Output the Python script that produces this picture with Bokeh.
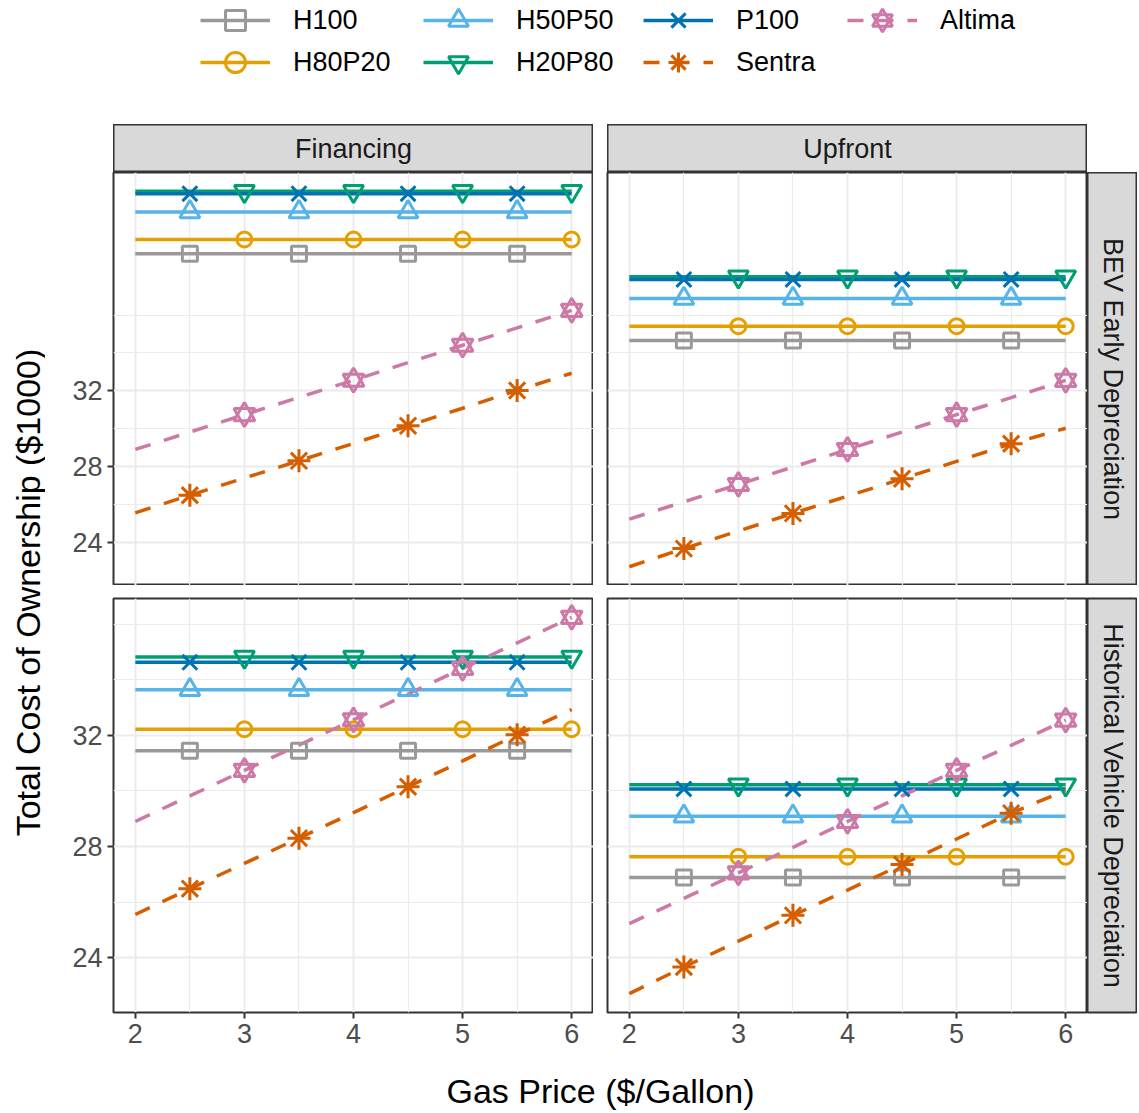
import math
from bokeh.plotting import figure
from bokeh.models import (Range1d, LinearAxis, FixedTicker, Grid, Legend, LegendItem,
                          ColumnDataSource, Label, Spacer, CDSView, IndexFilter)
from bokeh.layouts import row, column
from bokeh.embed import file_html
from bokeh.resources import INLINE

# ---------------- data ----------------
gas_price = [2, 2.5, 3, 3.5, 4, 4.5, 5, 5.5, 6]
series = ["H100", "H80P20", "H50P50", "H20P80", "P100", "Sentra", "Altima"]
payments = ["Financing", "Upfront"]
depreciations = ["BEV Early Depreciation", "Historical Vehicle Depreciation"]

# BEV total cost of ownership ($1000), constant over gas price
# order of each list: [Early/Financing, Early/Upfront, Historical/Financing, Historical/Upfront]
h100 = [39.25, 34.66, 31.45, 26.88]
h80p20 = [40.00, 35.42, 32.22, 27.63]
h50p50 = [41.46, 36.88, 33.64, 29.09]
h20p80 = [42.55, 38.03, 34.82, 30.22]
p100 = [42.42, 37.89, 34.63, 30.07]

# gasoline vehicles ($1000), by gas price
altima_financing = [28.90, 29.82, 30.74, 31.65, 32.56, 33.49, 34.41, 35.33, 36.25]
sentra_financing = [25.55, 26.48, 27.39, 28.30, 29.22, 30.15, 31.08, 32.02, 32.93]
altima_upfront = [25.22, 26.13, 27.05, 27.97, 28.90, 29.82, 30.74, 31.64, 32.55]
sentra_upfront = [22.70, 23.66, 24.59, 25.52, 26.43, 27.35, 28.27, 29.20, 30.02]

x_ticks = [2, 3, 4, 5, 6]
x_minor = [2.5, 3.5, 4.5, 5.5]
y_ticks = [24, 28, 32]
y_minor = [26, 30, 34, 36]

# ---------------- style ----------------
FONT = "Liberation Sans"
colors = {"H100": "#999999", "H80P20": "#E69F00", "H50P50": "#56B4E9",
          "H20P80": "#009E73", "P100": "#0072B2", "Sentra": "#D55E00", "Altima": "#CC79A7"}
markers = {"H100": ["square"], "H80P20": ["circle"], "H50P50": ["triangle"],
           "H20P80": ["inverted_triangle"], "P100": ["x"], "Sentra": ["asterisk"],
           "Altima": ["triangle", "inverted_triangle"]}
msize = {"H100": 15, "H80P20": 15, "H50P50": 20, "H20P80": 20, "P100": 21,
         "Sentra": 23, "Altima": 21}
dashed = {"Sentra", "Altima"}
mk_idx_a = [1, 3, 5, 7]
mk_idx_b = [2, 4, 6, 8]
mk_idx = {"H100": mk_idx_a, "H50P50": mk_idx_a, "P100": mk_idx_a, "Sentra": mk_idx_a,
          "H80P20": mk_idx_b, "H20P80": mk_idx_b, "Altima": mk_idx_b}
LW = 3.5
DASH = "16 14"


def values_for(panel_index, pay):
    n = len(gas_price)
    d = {
        "H100": [h100[panel_index]] * n,
        "H80P20": [h80p20[panel_index]] * n,
        "H50P50": [h50p50[panel_index]] * n,
        "H20P80": [h20p80[panel_index]] * n,
        "P100": [p100[panel_index]] * n,
    }
    if pay == "Financing":
        d["Sentra"] = sentra_financing
        d["Altima"] = altima_financing
    else:
        d["Sentra"] = sentra_upfront
        d["Altima"] = altima_upfront
    return d


def yrange(vals_lists):
    lo = min(min(v) for v in vals_lists)
    hi = max(max(v) for v in vals_lists)
    pad = (hi - lo) * 0.05
    return Range1d(lo - pad, hi + pad)


xr = Range1d(2 - 0.2, 6 + 0.2)
data_rows = []
for r in range(2):
    row_data = []
    for c, pay in enumerate(payments):
        row_data.append(values_for(r * 2 + c, pay))
    data_rows.append(row_data)
yranges = [yrange([v for d in data_rows[r] for v in d.values()]) for r in range(2)]


def make_panel(d, yr, fh, show_y, show_x, mbl, mbt, mbb):
    p = figure(frame_width=480, frame_height=fh, x_range=xr, y_range=yr,
               x_axis_type=None, y_axis_type=None, output_backend="svg",
               toolbar_location=None, min_border=0, min_border_left=mbl,
               min_border_top=mbt, min_border_bottom=mbb, min_border_right=0)
    p.outline_line_color = "#333333"
    p.outline_line_width = 2
    p.border_fill_color = "white"
    xt = FixedTicker(ticks=x_ticks, minor_ticks=x_minor)
    yt = FixedTicker(ticks=y_ticks, minor_ticks=y_minor)
    for dim, tk in ((0, xt), (1, yt)):
        p.add_layout(Grid(dimension=dim, ticker=tk, grid_line_color="#EBEBEB",
                          grid_line_width=2, minor_grid_line_color="#EBEBEB",
                          minor_grid_line_width=1.2))
    axkw = dict(axis_line_color=None, major_tick_line_color="#333333",
                major_tick_line_width=2, major_tick_out=6, major_tick_in=0,
                minor_tick_line_color=None, major_label_text_font_size="27px",
                major_label_text_color="#4D4D4D", major_label_text_font=FONT,
                major_label_standoff=5)
    if show_y:
        p.add_layout(LinearAxis(ticker=yt, **axkw), "left")
    if show_x:
        p.add_layout(LinearAxis(ticker=xt, **axkw), "below")
    srcs = {}
    for name in series:
        src = ColumnDataSource(dict(x=gas_price, y=d[name]))
        srcs[name] = src
        p.line("x", "y", source=src, line_color=colors[name], line_width=LW,
               line_dash=DASH if name in dashed else "solid")
    for name in series:
        view = CDSView(filter=IndexFilter(mk_idx[name]))
        for m in markers[name]:
            p.scatter("x", "y", source=srcs[name], view=view, marker=m,
                      size=msize[name], line_color=colors[name], fill_color=None,
                      line_width=3)
    return p


def make_strip(w, h, text, vertical, mbt=0, mbb=0):
    s = figure(frame_width=w, frame_height=h, x_range=Range1d(0, 1), y_range=Range1d(0, 1),
               x_axis_type=None, y_axis_type=None, min_border=0, min_border_top=mbt,
               min_border_bottom=mbb, toolbar_location=None, output_backend="svg")
    s.background_fill_color = "#D9D9D9"
    s.border_fill_color = "white"
    s.outline_line_color = "#333333"
    s.outline_line_width = 2
    s.add_layout(Label(x=0.5, y=0.5, text=text, text_align="center", text_baseline="middle",
                       angle=-math.pi / 2 if vertical else 0, text_font_size="27px",
                       text_color="#1A1A1A", text_font=FONT))
    return s


# ---------------- legend figure ----------------
LEG_H = 124
leg = figure(width=1139, height=LEG_H, x_range=Range1d(0, 1), y_range=Range1d(0, 1),
             x_axis_type=None, y_axis_type=None, min_border=0, toolbar_location=None,
             output_backend="svg")
leg.outline_line_color = None
leg_items = {}
for name in series:
    # key-only renderers: one placeholder row that lies outside the view
    key_src = ColumnDataSource(dict(x=[float("nan")], y=[float("nan")]))
    rs = [leg.line("x", "y", source=key_src, line_color=colors[name], line_width=LW,
                   line_dash=DASH if name in dashed else "solid")]
    for m in markers[name]:
        rs.append(leg.scatter("x", "y", source=key_src, marker=m, line_color=colors[name],
                              fill_color=None, line_width=3))
    leg_items[name] = LegendItem(label=name, renderers=rs)

GH = 50
leg_cols = [["H100", "H80P20"], ["H50P50", "H20P80"], ["P100", "Sentra"], ["Altima"]]
leg_x = [200, 423, 643, 847]
row_centers = [20, 62]
for col, lx in zip(leg_cols, leg_x):
    for ri, name in enumerate(col):
        bottom = LEG_H - (row_centers[ri] + GH / 2)
        lg = Legend(items=[leg_items[name]], location=(lx, bottom),
                    orientation="vertical", glyph_width=70, glyph_height=GH, spacing=0,
                    padding=0, margin=0, label_standoff=23, label_text_font_size="27px",
                    label_text_font=FONT, label_text_color="black", label_height=GH,
                    background_fill_alpha=0, border_line_color=None)
        leg.add_layout(lg, "center")

# ---------------- panels ----------------
TL = make_panel(data_rows[0][0], yranges[0], 413, True, False, 68, 0, 0)
TR = make_panel(data_rows[0][1], yranges[0], 413, False, False, 14, 0, 0)
BL = make_panel(data_rows[1][0], yranges[1], 414, True, True, 68, 13, 55)
BR = make_panel(data_rows[1][1], yranges[1], 414, False, True, 14, 13, 55)

strip_fin = make_strip(480, 48, payments[0], False)
strip_up = make_strip(480, 48, payments[1], False)
strip_r1 = make_strip(50, 413, depreciations[0], True)
strip_r2 = make_strip(50, 414, depreciations[1], True, 13, 55)

# axis titles
ylab = figure(width=45, height=943, x_range=Range1d(0, 1), y_range=Range1d(0, 1),
              x_axis_type=None, y_axis_type=None, min_border=0, toolbar_location=None,
              output_backend="svg")
ylab.outline_line_color = None
ylab.add_layout(Label(x=27, y=475, x_units="screen", y_units="screen",
                      text="Total Cost of Ownership ($1000)", angle=math.pi / 2,
                      text_align="center", text_baseline="middle", text_font_size="34px",
                      text_color="black", text_font=FONT))

xlab = figure(width=1139, height=46, x_range=Range1d(0, 1), y_range=Range1d(0, 1),
              x_axis_type=None, y_axis_type=None, min_border=0, toolbar_location=None,
              output_backend="svg")
xlab.outline_line_color = None
xlab.add_layout(Label(x=600, y=23, x_units="screen", y_units="screen",
                      text="Gas Price ($/Gallon)", text_align="center",
                      text_baseline="middle", text_font_size="34px", text_color="black",
                      text_font=FONT))

grid_col = column(
    row(Spacer(width=68, height=48), strip_fin, Spacer(width=14, height=48), strip_up),
    row(TL, TR, strip_r1),
    row(BL, BR, strip_r2),
)
layout = column(leg, row(ylab, grid_col), xlab)

open("out.html", "w").write(file_html(layout, INLINE))
